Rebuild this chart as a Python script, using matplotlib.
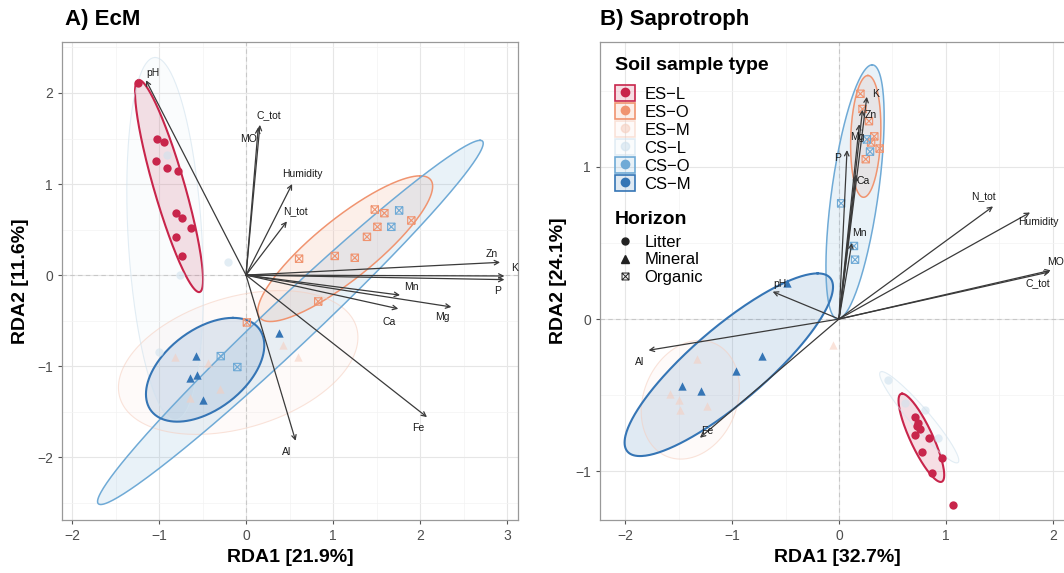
import matplotlib.pyplot as plt
import numpy as np
from matplotlib.lines import Line2D
from matplotlib.patches import Patch
from matplotlib.path import Path
from matplotlib.legend_handler import HandlerTuple
from matplotlib.ticker import MultipleLocator

plt.rcParams['font.family'] = ['Liberation Sans', 'DejaVu Sans']

# groups and colours
groups = ["ES-L", "ES-O", "ES-M", "CS-L", "CS-O", "CS-M"]
colors = ["#C8254B", "#F09470", "#F6CDBD", "#D0E2EE", "#6FAAD6", "#3575B5"]
horizons = ["Litter", "Mineral", "Organic"]

# ---- A) EcM ----
ecm_x = {
    "ES-L": [-1.24, -1.02, -0.94, -1.03, -0.91, -0.78, -0.80, -0.74, -0.63, -0.80, -0.74],
    "ES-O": [1.48, 1.59, 1.90, 1.51, 1.39, 1.02, 1.25, 0.61, 0.83, 0.01],
    "ES-M": [-0.44, -0.64, -0.82, 0.60, 0.43, -0.30],
    "CS-L": [-0.91, -0.21, -0.76, -1.00],
    "CS-O": [1.76, 1.67, -0.29, -0.10],
    "CS-M": [-0.57, -0.64, -0.56, -0.49, 0.38],
}
ecm_y = {
    "ES-L": [2.11, 1.49, 1.46, 1.25, 1.18, 1.14, 0.68, 0.63, 0.52, 0.42, 0.21],
    "ES-O": [0.72, 0.68, 0.60, 0.53, 0.42, 0.21, 0.19, 0.18, -0.29, -0.52],
    "ES-M": [-0.97, -1.35, -0.90, -0.90, -0.77, -1.25],
    "CS-L": [1.32, 0.14, 0.00, -0.85],
    "CS-O": [0.71, 0.53, -0.89, -1.01],
    "CS-M": [-0.89, -1.13, -1.10, -1.37, -0.64],
}
# ellipse: centre, conjugate semi-diameters u and v
ecm_ell_c = {"ES-L": (-0.885, 0.978), "ES-O": (1.14, 0.29), "ES-M": (-0.09, -0.96),
             "CS-L": (-0.93, 0.40), "CS-O": (0.51, -0.52), "CS-M": (-0.47, -1.04)}
ecm_ell_u = {"ES-L": (-0.345, 1.165), "ES-O": (0.86, 0.80), "ES-M": (0.48, 0.79),
             "CS-L": (-0.115, 1.99), "CS-O": (2.18, 2.0), "CS-M": (0.32, 0.57)}
ecm_ell_v = {"ES-L": (0.184, 0), "ES-O": (0.52, 0), "ES-M": (1.29, 0),
             "CS-L": (0.425, 0), "CS-O": (0.40, 0), "CS-M": (0.60, 0)}

ecm_vars = ["pH", "C_tot", "MO", "Humidity", "N_tot", "Zn", "K", "P", "Mn", "Mg", "Ca", "Fe", "Al"]
ecm_ax = [-1.15, 0.16, 0.14, 0.53, 0.47, 2.92, 2.97, 2.97, 1.77, 2.36, 1.75, 2.08, 0.57]
ecm_ay = [2.14, 1.65, 1.62, 1.00, 0.59, 0.14, -0.01, -0.05, -0.22, -0.35, -0.37, -1.56, -1.82]

# ---- B) Saprotroph ----
sap_x = {
    "ES-L": [0.71, 0.74, 0.76, 0.71, 0.84, 0.78, 0.96, 0.87, 1.07, 0.73],
    "ES-O": [0.20, 0.22, 0.28, 0.33, 0.38, 0.25, 0.30],
    "ES-M": [-1.50, -1.49, -1.23, -1.33, -1.58, -0.06],
    "CS-L": [0.46, 0.93, 0.62, 0.80],
    "CS-O": [0.26, 0.29, 0.02, 0.14, 0.15],
    "CS-M": [-1.47, -1.29, -0.96, -0.72, -0.49],
}
sap_y = {
    "ES-L": [-0.645, -0.68, -0.72, -0.76, -0.78, -0.875, -0.915, -1.01, -1.22, -0.70],
    "ES-O": [1.48, 1.38, 1.30, 1.20, 1.12, 1.05, 1.16],
    "ES-M": [-0.53, -0.60, -0.57, -0.26, -0.49, -0.17],
    "CS-L": [-0.40, -0.78, -0.55, -0.60],
    "CS-O": [1.18, 1.10, 0.76, 0.48, 0.39],
    "CS-M": [-0.44, -0.47, -0.34, -0.24, 0.24],
}
sap_ell_c = {"ES-L": (0.77, -0.78), "ES-O": (0.25, 1.20), "ES-M": (-1.39, -0.53),
             "CS-L": (0.75, -0.645), "CS-O": (0.15, 0.835), "CS-M": (-1.03, -0.30)}
sap_ell_u = {"ES-L": (-0.18, 0.29), "ES-O": (0.02, 0.40), "ES-M": (0.09, 0.39),
             "CS-L": (-0.35, 0.30), "CS-O": (0.16, 0.835), "CS-M": (0.83, 0.60)}
sap_ell_v = {"ES-L": (0.115, 0), "ES-O": (0.14, 0), "ES-M": (0.45, 0),
             "CS-L": (0.12, 0), "CS-O": (0.22, 0), "CS-M": (0.51, 0)}

sap_vars = ["K", "Zn", "Mg", "P", "Ca", "Mn", "N_tot", "Humidity", "MO", "C_tot", "pH", "Al", "Fe"]
sap_ax = [0.26, 0.22, 0.19, 0.075, 0.16, 0.12, 1.44, 1.786, 1.98, 1.97, -0.62, -1.78, -1.30]
sap_ay = [1.46, 1.375, 1.28, 1.11, 0.95, 0.50, 0.74, 0.70, 0.32, 0.31, 0.18, -0.205, -0.78]

# label offsets in pixels from arrow tips
ecm_lab_off = {"pH": (7, 7), "C_tot": (9, 10), "MO": (-10, -11), "Humidity": (10, 10),
               "N_tot": (9, 10), "Zn": (-8, 8), "K": (10, 8), "P": (-7, -11), "Mn": (11, 8),
               "Mg": (-9, -10), "Ca": (-9, -13), "Fe": (-9, -11), "Al": (-9, -11)}
sap_lab_off = {"K": (9, 3), "Zn": (8, -5), "Mg": (-2, -13), "P": (-9, -8), "Ca": (7, -7),
               "Mn": (8, 10), "N_tot": (-10, 10), "Humidity": (8, -10), "MO": (5, 8),
               "C_tot": (-12, -11), "pH": (7, 8), "Al": (-9, -12), "Fe": (7, 7)}

# square with a cross (organic horizon)
boxx = Path([(-1, -1), (1, -1), (1, 1), (-1, 1), (-1, -1), (-1, -1), (1, 1), (-1, 1), (1, -1)],
            [Path.MOVETO, Path.LINETO, Path.LINETO, Path.LINETO, Path.CLOSEPOLY,
             Path.MOVETO, Path.LINETO, Path.MOVETO, Path.LINETO])
marker_of = {"L": "o", "M": "^", "O": boxx}
edge_lw = {"ES-L": 1.5, "ES-O": 1.1, "ES-M": 0.8, "CS-L": 0.8, "CS-O": 1.1, "CS-M": 1.5}
faint = {"ES-M": 0.55, "CS-L": 0.6}


def draw_panel(ax, px, py, ec, eu, ev, vars_, axs, ays, offs):
    t = np.linspace(0, 2 * np.pi, 300)
    for g, col in zip(groups, colors):
        c, u, v = ec[g], eu[g], ev[g]
        xs = c[0] + u[0] * np.cos(t) + v[0] * np.sin(t)
        ys = c[1] + u[1] * np.cos(t) + v[1] * np.sin(t)
        a = faint.get(g, 1.0)
        ax.fill(xs, ys, color=col, alpha=0.15 * a, lw=0, zorder=2)
        ax.plot(xs, ys, color=col, lw=edge_lw[g], alpha=a, zorder=3)
    for g, col in zip(groups, colors):
        m = marker_of[g[-1]]
        a = faint.get(g, 1.0)
        if g[-1] == "O":
            ax.scatter(px[g], py[g], marker=m, s=28, facecolors='none',
                       edgecolors=col, linewidths=0.8, alpha=a, zorder=4)
        else:
            ax.scatter(px[g], py[g], marker=m, s=36, color=col, lw=0, alpha=a, zorder=4)
    for name, x, y in zip(vars_, axs, ays):
        ax.annotate('', xy=(x, y), xytext=(0, 0),
                    arrowprops=dict(arrowstyle='->', color='#3a3a3a', lw=0.9,
                                    shrinkA=0, shrinkB=0, mutation_scale=8), zorder=5)
        ax.annotate(name, xy=(x, y), xytext=offs[name], textcoords='offset pixels',
                    ha='center', va='center', fontsize=7.5, color='#1a1a1a', zorder=6)
    ax.axhline(0, color='#c8c8c8', lw=0.8, ls=(0, (4, 3)), zorder=1)
    ax.axvline(0, color='#c8c8c8', lw=0.8, ls=(0, (4, 3)), zorder=1)
    ax.xaxis.set_major_locator(MultipleLocator(1))
    ax.yaxis.set_major_locator(MultipleLocator(1))
    ax.xaxis.set_minor_locator(MultipleLocator(0.5))
    ax.yaxis.set_minor_locator(MultipleLocator(0.5))
    ax.grid(which='major', color='#e6e6e6', lw=0.8, zorder=0)
    ax.grid(which='minor', color='#f3f3f3', lw=0.5, zorder=0)
    ax.set_axisbelow(True)
    ax.tick_params(which='major', length=3, color='#555555', labelsize=10, labelcolor='#4d4d4d')
    ax.tick_params(which='minor', length=0)
    for s in ax.spines.values():
        s.set_color('#999999')
        s.set_linewidth(0.9)


W, H = 1064, 573
fig = plt.figure(figsize=(W / 100, H / 100), dpi=100)

ax1 = fig.add_axes([62 / W, 1 - 520 / H, 456 / W, 478 / H])
draw_panel(ax1, ecm_x, ecm_y, ecm_ell_c, ecm_ell_u, ecm_ell_v, ecm_vars, ecm_ax, ecm_ay, ecm_lab_off)
ax1.set_xlim(-2.115, 3.126)
ax1.set_ylim(-2.69, 2.56)
ax1.set_xlabel('RDA1 [21.9%]', fontsize=14, fontweight='bold', labelpad=4)
ax1.set_ylabel('RDA2 [11.6%]', fontsize=14, fontweight='bold', labelpad=6)

ax2 = fig.add_axes([600 / W, 1 - 520 / H, 475 / W, 478 / H])
draw_panel(ax2, sap_x, sap_y, sap_ell_c, sap_ell_u, sap_ell_v, sap_vars, sap_ax, sap_ay, sap_lab_off)
ax2.set_xlim(-2.234, 2.206)
ax2.set_ylim(-1.32, 1.82)
ax2.set_xlabel('RDA1 [32.7%]', fontsize=14, fontweight='bold', labelpad=4)
ax2.set_ylabel('RDA2 [24.1%]', fontsize=14, fontweight='bold', labelpad=6)

fig.text(65 / W, 1 - 20 / H, 'A) EcM', fontsize=16, fontweight='bold', va='center')
fig.text(600 / W, 1 - 20 / H, 'B) Saprotroph', fontsize=16, fontweight='bold', va='center')

# legends
soil_handles = []
for g, col in zip(groups, colors):
    a = faint.get(g, 1.0)
    soil_handles.append((Patch(facecolor=col, alpha=0.15 * a, edgecolor='none'),
                         Patch(facecolor='none', edgecolor=col, lw=1.2, alpha=a),
                         Line2D([], [], ls='none', marker='o', ms=6, color=col, alpha=a)))
leg1 = ax2.legend(soil_handles, [g.replace('-', '\u2212') for g in groups],
                  handler_map={tuple: HandlerTuple(ndivide=1)},
                  title='Soil sample type', loc='upper left', bbox_to_anchor=(0.0, 1.0),
                  fontsize=12, title_fontproperties={'weight': 'bold', 'size': 14},
                  frameon=False, handlelength=1.2, handleheight=1.1, labelspacing=0.08,
                  handletextpad=0.55, alignment='left', borderaxespad=0.5)
leg1._legend_box.sep = 8
ax2.add_artist(leg1)
hor_handles = [Line2D([], [], ls='none', marker='o', ms=5, color='#222222'),
               Line2D([], [], ls='none', marker='^', ms=6, color='#222222'),
               Line2D([], [], ls='none', marker=boxx, ms=5, mfc='none', mec='#222222', mew=0.7)]
leg2 = ax2.legend(hor_handles, horizons, title='Horizon', loc='upper left',
                  bbox_to_anchor=(0.0, 0.678), fontsize=12,
                  title_fontproperties={'weight': 'bold', 'size': 14}, frameon=False,
                  handlelength=1.2, labelspacing=0.15, handletextpad=0.55, alignment='left',
                  borderaxespad=0.5)
leg2._legend_box.sep = 5

fig.savefig('out.png', dpi=100, facecolor='white')
